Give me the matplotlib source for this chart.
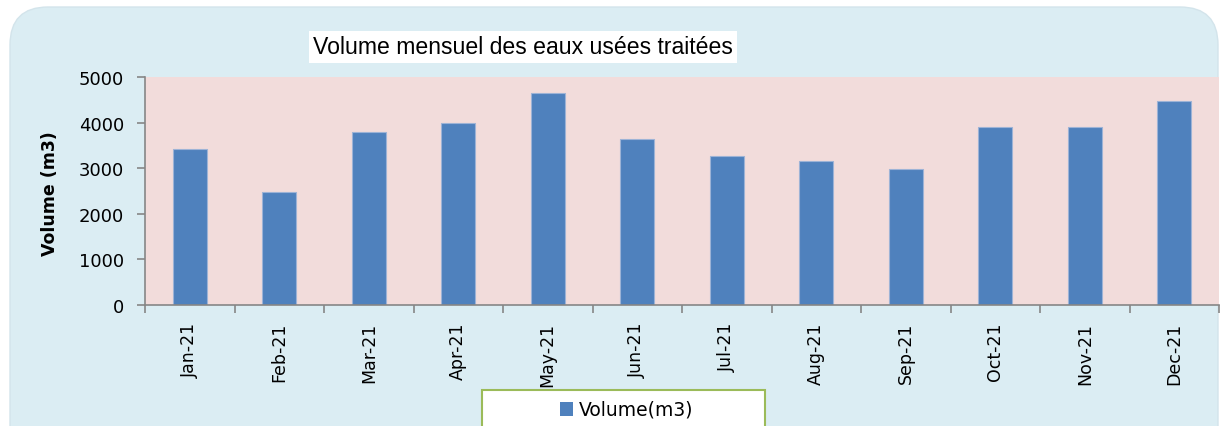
import matplotlib
matplotlib.use("Agg")
import matplotlib.pyplot as plt
from matplotlib.patches import FancyBboxPatch, Rectangle
from matplotlib.transforms import IdentityTransform
import numpy as np

months = ["Jan-21", "Feb-21", "Mar-21", "Apr-21", "May-21", "Jun-21",
          "Jul-21", "Aug-21", "Sep-21", "Oct-21", "Nov-21", "Dec-21"]
volumes = [3420, 2470, 3800, 3990, 4660, 3650, 3270, 3150, 2975, 3910, 3910, 4470]
yticks = [0, 1000, 2000, 3000, 4000, 5000]
title = "Volume mensuel des eaux usées traitées"
ylabel = "Volume (m3)"
legend_label = "Volume(m3)"

W, H = 1222, 427
fig = plt.figure(figsize=(W / 100, H / 100), dpi=100)
fig.patch.set_facecolor("white")

def fx(px):
    return px / W

def fy(py):
    return 1 - py / H

# rounded chart background (pixel coordinates, origin bottom-left)
bg = FancyBboxPatch((10, H - 470), 1208, 470 - 8,
                    boxstyle="round,pad=0,rounding_size=38",
                    transform=IdentityTransform(), facecolor="#DBEDF3",
                    edgecolor="#D3E4EB", linewidth=1.0, zorder=-10)
fig.patches.append(bg)

ax = fig.add_axes([fx(145), fy(306), fx(1219 - 145), (306 - 78) / H])
ax.set_zorder(1)
ax.set_facecolor("#F2DCDB")
x = np.arange(len(months))
ax.bar(x, volumes, width=0.385, color="#4F81BD", edgecolor="#9DB3D6",
       linewidth=0.8, zorder=2)
ax.set_xlim(-0.5, len(months) - 0.5)
ax.set_ylim(0, 5000)
ax.set_yticks(yticks)
ax.set_yticklabels([str(v) for v in yticks], fontsize=13, family="DejaVu Sans")
ax.set_xticks(x)
ax.set_xticklabels(months, rotation=90, fontsize=12.5, family="DejaVu Sans")
ax.tick_params(axis="x", length=0, pad=12)
ax.set_xticks(np.arange(-0.5, len(months)), minor=True)
ax.tick_params(axis="x", which="minor", length=6, color="#868686", width=1.2)
ax.tick_params(axis="y", length=6, color="#868686", width=1.2, pad=9)
for s in ["top", "right"]:
    ax.spines[s].set_visible(False)
for s in ["left", "bottom"]:
    ax.spines[s].set_color("#868686")
    ax.spines[s].set_linewidth(1.2)

fig.text(fx(50), fy(194), ylabel, rotation=90, fontsize=12.5, fontweight="bold",
         ha="center", va="center", family="DejaVu Sans")

# title with white box
fig.text(fx(523), fy(48), title, fontsize=16.6, ha="center", va="center",
         family="Liberation Sans",
         bbox=dict(facecolor="white", edgecolor="none", pad=3))

# legend box
fig.patches.append(Rectangle((fx(482), fy(440)), fx(283), (440 - 391) / H,
                             transform=fig.transFigure, facecolor="white",
                             edgecolor="#9BBB59", linewidth=1.5, zorder=3))
fig.patches.append(Rectangle((fx(560), fy(417)), fx(13), 14 / H,
                             transform=fig.transFigure, facecolor="#4F81BD",
                             edgecolor="none", zorder=4))
fig.text(fx(579), fy(410), legend_label, fontsize=13.5, ha="left", va="center",
         family="DejaVu Sans", zorder=5)

fig.savefig("out.png", dpi=100, facecolor="white")
